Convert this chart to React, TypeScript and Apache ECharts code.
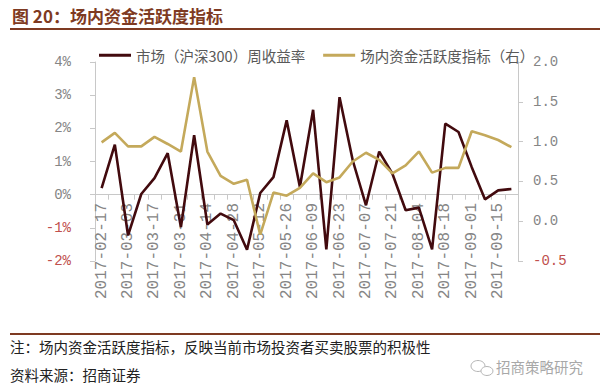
import React, { useEffect, useRef } from "react";
import * as echarts from "echarts";

const categories = [
  "2017-02-17", "2017-02-24", "2017-03-03", "2017-03-10", "2017-03-17", "2017-03-24",
  "2017-03-31", "2017-04-07", "2017-04-14", "2017-04-21", "2017-04-28", "2017-05-05",
  "2017-05-12", "2017-05-19", "2017-05-26", "2017-06-02", "2017-06-09", "2017-06-16",
  "2017-06-23", "2017-06-30", "2017-07-07", "2017-07-14", "2017-07-21", "2017-07-28",
  "2017-08-04", "2017-08-11", "2017-08-18", "2017-08-25", "2017-09-01", "2017-09-08",
  "2017-09-15", "2017-09-22",
];

// 市场（沪深300）周收益率, in %
const marketReturn = [
  0.2, 1.51, -1.23, 0.02, 0.5, 1.25, -0.98, 1.79, -0.9, -0.57, -0.77, -1.66, 0.05, 0.53,
  2.24, 0.23, 2.56, -1.65, 2.94, 1.03, -0.32, 1.3, 0.63, -0.47, -0.39, -1.65, 2.14, 1.89,
  0.83, -0.14, 0.13, 0.17,
];

// 场内资金活跃度指标（右）
const activity = [
  0.99, 1.11, 0.94, 0.94, 1.06, 0.97, 0.875, 1.81, 0.875, 0.57, 0.47, 0.52, -0.17, 0.36,
  0.32, 0.42, 0.6, 0.49, 0.55, 0.75, 0.86, 0.77, 0.6, 0.7, 0.875, 0.61, 0.67, 0.67, 1.13,
  1.08, 1.02, 0.93,
];

const seriesNames = ["市场（沪深300）周收益率", "场内资金活跃度指标（右）"];
const titleText = "图 20：场内资金活跃度指标";
const noteText = "注：场内资金活跃度指标，反映当前市场投资者买卖股票的积极性";
const sourceText = "资料来源：招商证券";
const watermarkText = "招商策略研究";

export default function App() {
  const ref = useRef<HTMLDivElement>(null);
  useEffect(() => {
    if (!ref.current) return;
    const chart = echarts.init(ref.current, null, { renderer: "svg" });
    const cjk = "'Noto Sans CJK SC', 'Noto Sans', sans-serif";
    const mono = "'Liberation Mono', 'DejaVu Sans Mono', monospace";
    const brown = "#7e3a22";
    const axisGray = "#c8c8c8";
    const labelGray = "#858585";
    const negRed = "#c0504d";
    chart.setOption({
      animation: false,
      backgroundColor: "#ffffff",
      grid: { left: 95, right: 82, top: 62, bottom: 127, containLabel: false },
      legend: {
        left: 94,
        top: 43,
        itemWidth: 32,
        itemHeight: 3,
        itemGap: 18,
        textStyle: { fontFamily: cjk, fontSize: 14.5, color: "#595959" },
        data: [
          { name: seriesNames[0], icon: "rect", itemStyle: { color: "#420a0e" } },
          { name: seriesNames[1], icon: "rect", itemStyle: { color: "#c4a95b" } },
        ],
      },
      xAxis: {
        type: "category",
        data: categories,
        boundaryGap: true,
        axisLine: { onZero: true, onZeroAxisIndex: 0, lineStyle: { color: axisGray, width: 1 } },
        axisTick: { show: true, interval: 0, length: 5, lineStyle: { color: axisGray } },
        axisLabel: {
          interval: 1,
          rotate: 90,
          margin: -58,
          fontFamily: mono,
          fontSize: 16,
          color: labelGray,
        },
        splitLine: { show: false },
      },
      yAxis: [
        {
          type: "value",
          min: -2,
          max: 4,
          interval: 1,
          position: "left",
          axisLine: { show: true, lineStyle: { color: axisGray } },
          axisTick: { show: true, length: 5, lineStyle: { color: axisGray } },
          splitLine: { show: false },
          axisLabel: {
            margin: 24,
            fontFamily: mono,
            fontSize: 14,
            formatter: (v: number) => `${v}%`,
            color: (v: any) => (Number(v) < 0 ? negRed : labelGray),
          },
        },
        {
          type: "value",
          min: -0.5,
          max: 2,
          interval: 0.5,
          position: "right",
          axisLine: { show: true, lineStyle: { color: axisGray } },
          axisTick: { show: true, length: 5, lineStyle: { color: axisGray } },
          splitLine: { show: false },
          axisLabel: {
            margin: 15,
            fontFamily: mono,
            fontSize: 14,
            formatter: (v: number) => v.toFixed(1),
            color: (v: any) => (Number(v) < 0 ? negRed : labelGray),
          },
        },
      ],
      series: [
        {
          name: seriesNames[0],
          type: "line",
          yAxisIndex: 0,
          data: marketReturn,
          showSymbol: false,
          symbol: "none",
          lineStyle: { color: "#420a0e", width: 2.6 },
          itemStyle: { color: "#420a0e" },
          z: 3,
        },
        {
          name: seriesNames[1],
          type: "line",
          yAxisIndex: 1,
          data: activity,
          showSymbol: false,
          symbol: "none",
          lineStyle: { color: "#c4a95b", width: 2.6 },
          itemStyle: { color: "#c4a95b" },
          z: 4,
        },
      ],
      graphic: [
        {
          type: "text",
          left: 12,
          top: 7,
          style: {
            text: titleText,
            fontFamily: cjk,
            fontSize: 17,
            fontWeight: "bold",
            fill: brown,
          },
        },
        {
          type: "line",
          shape: { x1: 10, y1: 29, x2: 600, y2: 29 },
          style: { stroke: brown, lineWidth: 2 },
        },
        {
          type: "line",
          shape: { x1: 10, y1: 334, x2: 600, y2: 334 },
          style: { stroke: brown, lineWidth: 2 },
        },
        {
          type: "text",
          left: 10,
          top: 339,
          style: { text: noteText, fontFamily: cjk, fontSize: 14.5, fill: "#222222" },
        },
        {
          type: "text",
          left: 10,
          top: 367,
          style: { text: sourceText, fontFamily: cjk, fontSize: 14.5, fill: "#222222" },
        },
        {
          type: "ellipse",
          shape: { cx: 478, cy: 366, rx: 7, ry: 5.5 },
          style: { fill: "none", stroke: "#b5b5b5", lineWidth: 1 },
        },
        {
          type: "ellipse",
          shape: { cx: 487, cy: 371, rx: 6, ry: 4.5 },
          style: { fill: "#ffffff", stroke: "#b5b5b5", lineWidth: 1 },
        },
        {
          type: "text",
          left: 496,
          top: 359,
          style: { text: watermarkText, fontFamily: cjk, fontSize: 14.5, fill: "#a8a8a8" },
        },
      ],
    });
    return () => chart.dispose();
  }, []);
  return (
    <div
      ref={ref}
      style={{ position: "fixed", left: 0, top: 0, width: 600, height: 388, background: "#fff" }}
    />
  );
}
